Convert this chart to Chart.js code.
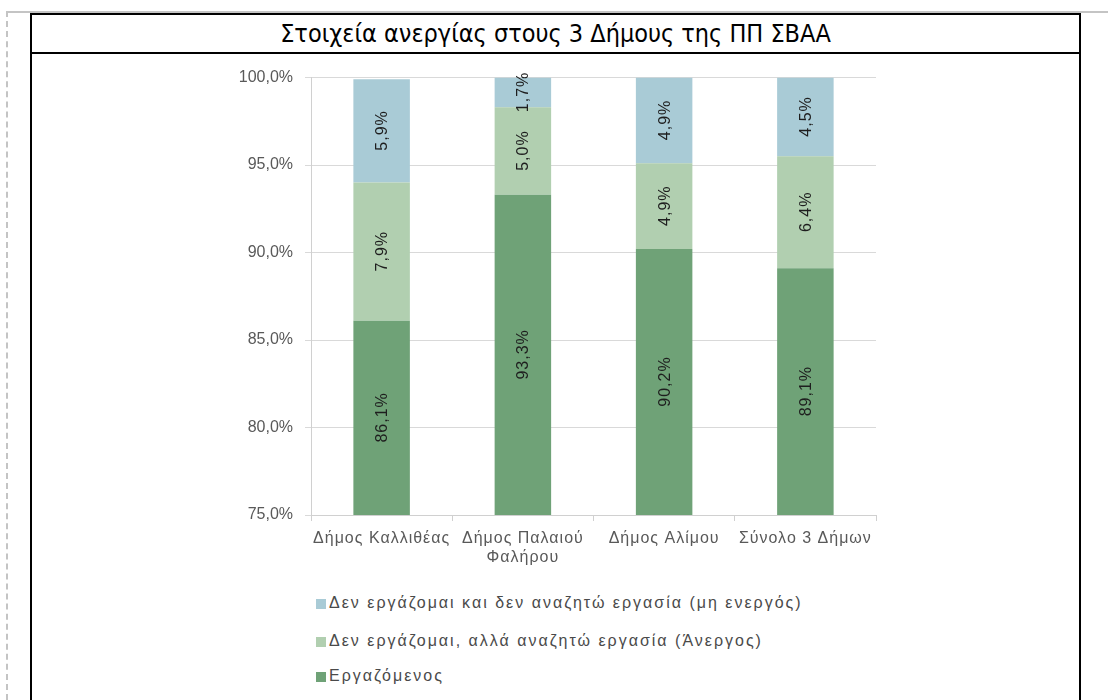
<!DOCTYPE html>
<html>
<head>
<meta charset="utf-8">
<script src="https://cdn.jsdelivr.net/npm/chart.js@4/dist/chart.umd.min.js"></script>
<style>
  html, body { margin:0; padding:0; background:#fff; width:1108px; height:700px; overflow:hidden; }
  #grayTop { position:absolute; left:6px; top:11px; right:0; height:0; border-top:2px solid #c4c4c4; }
  #grayLeft { position:absolute; left:6px; top:11px; bottom:0; width:0; border-left:2px dashed #c4c4c4; }
  #frame { position:absolute; left:30px; top:13px; width:1047px; height:760px; border:2px solid #000; }
  #titleRow { position:absolute; left:0; top:0; right:0; height:37px; border-bottom:2px solid #000;
    font-family:"DejaVu Sans Condensed","DejaVu Sans",sans-serif; font-size:25px; color:#000;
    text-align:center; line-height:38px; }
  #wrap { position:absolute; left:200px; top:56px; width:700px; height:520px; }
  #legend { position:absolute; left:316px; top:590px; font-family:"Liberation Sans",Arial,sans-serif; font-size:16px; letter-spacing:2px; color:#4a4a4a; }
  .li { position:absolute; left:0; white-space:nowrap; height:20px; line-height:20px; }
  .sw { display:inline-block; width:10px; height:10px; margin-right:3px; vertical-align:-1px; }
</style>
</head>
<body>
<div id="grayTop"></div>
<div id="grayLeft"></div>
<div id="frame"><div id="titleRow">Στοιχεία ανεργίας στους 3 Δήμους της ΠΠ ΣΒΑΑ</div></div>
<div id="wrap"><canvas id="c" width="700" height="520"></canvas></div>
<div id="legend"></div>
<script>
const categories = ['Δήμος Καλλιθέας', ['Δήμος Παλαιού', 'Φαλήρου'], 'Δήμος Αλίμου', 'Σύνολο 3 Δήμων'];
const seriesNames = ['Εργαζόμενος', 'Δεν εργάζομαι, αλλά αναζητώ εργασία (Άνεργος)', 'Δεν εργάζομαι και δεν αναζητώ εργασία (μη ενεργός)'];
const employed = [86.1, 93.3, 90.2, 89.1];
const unemployed = [7.9, 5.0, 4.9, 6.4];
const inactive = [5.9, 1.7, 4.9, 4.5];
const seriesColors = ['#6fa277', '#b1cfb0', '#a9cbd6'];
const yTicks = [75, 80, 85, 90, 95, 100];

const fmt = v => v.toFixed(1).replace('.', ',') + '%';

const labelPlugin = {
  id: 'segLabels',
  afterDatasetsDraw(chart) {
    const ctx = chart.ctx, area = chart.chartArea;
    ctx.save();
    ctx.font = '16px "Liberation Sans", Arial, sans-serif';
    ctx.letterSpacing = '1px';
    ctx.fillStyle = '#1e1e1e';
    ctx.textAlign = 'center';
    ctx.textBaseline = 'middle';
    chart.data.datasets.forEach((ds, di) => {
      const meta = chart.getDatasetMeta(di);
      meta.data.forEach((el, i) => {
        const top = Math.max(el.y, area.top);
        const bot = Math.min(el.base, area.bottom);
        const cy = (top + bot) / 2;
        ctx.save();
        ctx.translate(el.x, cy);
        ctx.rotate(-Math.PI / 2);
        ctx.fillText(fmt(ds.data[i]), 0.5, 1);
        ctx.restore();
      });
    });
    ctx.restore();
    // x tick labels (drawn after datasets, z:1) get a little letter spacing
    ctx.letterSpacing = '1px';
  },
  afterDraw(chart) {
    chart.ctx.letterSpacing = '0px';
  }
};

const datasets = [employed, unemployed, inactive].map((d, i) => ({
  label: seriesNames[i], data: d, backgroundColor: seriesColors[i],
  barPercentage: 0.4, categoryPercentage: 1.0, borderWidth: 0
}));

const chart = new Chart(document.getElementById('c'), {
  type: 'bar',
  data: { labels: categories, datasets },
  options: {
    responsive: false, animation: false,
    layout: { padding: { left: 0, right: 24, top: 21, bottom: 0 } },
    plugins: { legend: { display: false }, tooltip: { enabled: false } },
    scales: {
      x: {
        stacked: true,
        grid: { drawOnChartArea: false, drawTicks: true, tickLength: 6, color: '#d0d0d0', offset: true },
        border: { color: '#d0d0d0' },
        ticks: { z: 1, color: '#595959', font: { family: '"Liberation Sans", Arial, sans-serif', size: 16 }, padding: 8, maxRotation: 0, autoSkip: false },
        afterFit(s) { s.height = 61; }
      },
      y: {
        stacked: true, min: 75, max: 100,
        afterBuildTicks(s) { s.ticks = yTicks.map(v => ({ value: v })); },
        grid: { color: '#d9d9d9', tickLength: 6 },
        border: { color: '#d0d0d0' },
        ticks: { color: '#595959', font: { family: '"Liberation Sans", Arial, sans-serif', size: 16 }, padding: 12, callback: v => fmt(v) },
        afterFit(s) { s.width = 111; }
      }
    }
  },
  plugins: [labelPlugin]
});

// legend (reverse order like the original)
const lg = document.getElementById('legend');
const rowY = [3, 41, 76];
[2, 1, 0].forEach((di, k) => {
  const ds = chart.data.datasets[di];
  const d = document.createElement('div');
  d.className = 'li';
  d.style.top = rowY[k] + 'px';
  const sw = document.createElement('span');
  sw.className = 'sw';
  sw.style.background = ds.backgroundColor;
  d.appendChild(sw);
  d.appendChild(document.createTextNode(ds.label));
  lg.appendChild(d);
});
</script>
</body>
</html>
